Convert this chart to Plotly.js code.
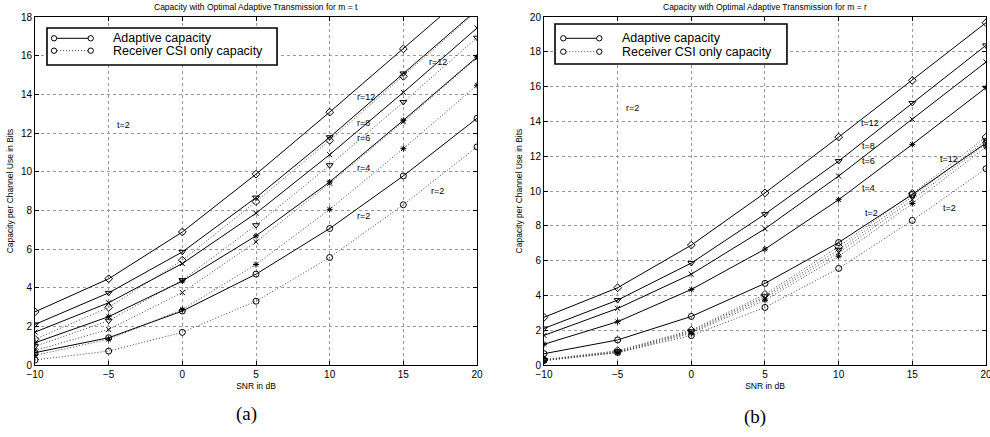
<!DOCTYPE html>
<html>
<head>
<meta charset="utf-8">
<script src="https://cdn.plot.ly/plotly-3.0.1.min.js"></script>
<style>html,body{margin:0;padding:0;background:#fff;}#chart{width:990px;height:437px;}</style>
</head>
<body>
<div id="chart"></div>
<script>
// ---------- data ----------
const snr = [-10, -5, 0, 5, 10, 15, 20];

// (a) m = t, curves for r = 2,4,6,8,12
const adaptT_r2  = [0.64, 1.41, 2.79, 4.70, 7.06, 9.78, 12.76];
const adaptT_r4  = [1.15, 2.50, 4.34, 6.68, 9.47, 12.66, 15.93];
const adaptT_r6  = [1.70, 3.22, 5.25, 7.85, 10.88, 14.10, 17.43];
const adaptT_r8  = [2.10, 3.73, 5.85, 8.66, 11.78, 15.08, 18.37];
const adaptT_r12 = [2.75, 4.46, 6.88, 9.87, 13.08, 16.35, 19.66];
const rcsiT_r2   = [0.26, 0.72, 1.69, 3.30, 5.56, 8.29, 11.28];
const rcsiT_r4   = [0.50, 1.33, 2.87, 5.20, 8.05, 11.19, 14.47];
const rcsiT_r6   = [0.75, 1.84, 3.75, 6.37, 9.40, 12.58, 15.88];
const rcsiT_r8   = [0.97, 2.29, 4.39, 7.23, 10.33, 13.60, 16.93];
const rcsiT_r12  = [1.33, 2.98, 5.42, 8.45, 11.62, 14.93, 18.30];

// (b) m = r, curves for t = 2,4,6,8,12
const adaptR_t2  = [0.65, 1.44, 2.79, 4.69, 7.04, 9.80, 12.76];
const adaptR_t4  = [1.19, 2.49, 4.34, 6.66, 9.50, 12.68, 15.94];
const adaptR_t6  = [1.70, 3.25, 5.22, 7.83, 10.86, 14.12, 17.41];
const adaptR_t8  = [2.10, 3.73, 5.86, 8.67, 11.72, 15.06, 18.37];
const adaptR_t12 = [2.74, 4.44, 6.89, 9.89, 13.10, 16.36, 19.67];
const rcsiR_t2   = [0.26, 0.72, 1.69, 3.31, 5.55, 8.31, 11.28];
const rcsiR_t4   = [0.25, 0.70, 1.82, 3.72, 6.25, 9.28, 12.53];
const rcsiR_t6   = [0.27, 0.74, 1.88, 3.85, 6.45, 9.50, 12.72];
const rcsiR_t8   = [0.29, 0.78, 1.94, 3.95, 6.62, 9.68, 12.92];
const rcsiR_t12  = [0.31, 0.82, 2.00, 4.06, 6.80, 9.86, 13.10];

const symbols = ['circle-open', 'asterisk-open', 'x-thin-open', 'triangle-down-open', 'diamond-open'];
const symSizes = [6, 5, 5, 6, 6];
const titleA = 'Capacity with Optimal Adaptive Transmission for m = t';
const titleB = 'Capacity with Optimal Adaptive Transmission for m = r';
const xTitle = 'SNR in dB';
const yTitle = 'Capacity per Channel Use in Bits';
const legendNames = ['Adaptive capacity', 'Receiver CSI only capacity'];

// ---------- traces ----------
const FONT = '"Liberation Sans", Arial, Helvetica, sans-serif';
const SERIF = '"Liberation Serif", "Times New Roman", serif';
const SOLID = {color: '#000', width: 1};
const DOTTED = {color: '#444', width: 1, dash: '1px,2px'};
function tr(y, i, dotted, xa, ya, nm) {
  return {
    x: snr, y: y, xaxis: xa, yaxis: ya, type: 'scatter', mode: 'lines+markers',
    name: nm, showlegend: false, hoverinfo: 'x+y',
    line: dotted ? DOTTED : SOLID,
    marker: {symbol: symbols[i], size: symSizes[i], color: '#000', line: {color: '#000', width: 1}}
  };
}
const traces = [];
[rcsiT_r2, rcsiT_r4, rcsiT_r6, rcsiT_r8, rcsiT_r12].forEach((y, i) => traces.push(tr(y, i, true, 'x', 'y', legendNames[1])));
[adaptT_r2, adaptT_r4, adaptT_r6, adaptT_r8, adaptT_r12].forEach((y, i) => traces.push(tr(y, i, false, 'x', 'y', legendNames[0])));
[rcsiR_t2, rcsiR_t4, rcsiR_t6, rcsiR_t8, rcsiR_t12].forEach((y, i) => traces.push(tr(y, i, true, 'x2', 'y2', legendNames[1])));
[adaptR_t2, adaptR_t4, adaptR_t6, adaptR_t8, adaptR_t12].forEach((y, i) => traces.push(tr(y, i, false, 'x2', 'y2', legendNames[0])));

// ---------- layout ----------
function xax(domain, anchor) {
  return {
    domain: domain, anchor: anchor, range: [-10, 20], tickvals: snr, ticks: 'inside', ticklen: 4,
    tickcolor: '#000', mirror: 'ticks', showline: true, linecolor: '#000', linewidth: 1,
    showgrid: true, gridcolor: '#9a9a9a', griddash: 'dot', gridwidth: 1, zeroline: false,
    ticklabeloverflow: 'allow',
    tickfont: {family: FONT, size: 10, color: '#000'},
    title: {text: xTitle, font: {family: FONT, size: 8.5, color: '#000'}, standoff: 4}
  };
}
function yax(anchor, top) {
  return {
    domain: [0, 1], anchor: anchor, range: [0, top], dtick: 2, ticks: 'inside', ticklen: 4,
    tickcolor: '#000', mirror: 'ticks', showline: true, linecolor: '#000', linewidth: 1,
    showgrid: true, gridcolor: '#9a9a9a', griddash: 'dot', gridwidth: 1, zeroline: false,
    tickfont: {family: FONT, size: 10, color: '#000'},
    title: {text: yTitle, font: {family: FONT, size: 8.5, color: '#000'}, standoff: 5}
  };
}

const lab = (text, x, y, xr, yr) => ({
  text: text, x: x, y: y, xref: xr, yref: yr, showarrow: false, xanchor: 'center', yanchor: 'middle',
  font: {family: FONT, size: 9, color: '#000'}
});
const paperText = (text, x, y, size, fam, xa) => ({
  text: text, x: x, y: y, xref: 'paper', yref: 'paper', showarrow: false,
  xanchor: xa || 'center', yanchor: 'middle', font: {family: fam, size: size, color: '#000'}
});

// hand-drawn MATLAB-style legend boxes (paper coordinates)
const shapes = [];
const legendAnns = [];
function drawLegend(bx0, bx1, by0, by1, lx0, lx1, rows, tx) {
  shapes.push({type: 'rect', xref: 'paper', yref: 'paper', x0: bx0, x1: bx1, y0: by0, y1: by1,
    line: {color: '#000', width: 1.6}, fillcolor: '#fff', layer: 'above'});
  rows.forEach((ry, j) => {
    const ln = j ? DOTTED : SOLID;
    shapes.push({type: 'line', xref: 'paper', yref: 'paper', x0: lx0, x1: lx1, y0: ry, y1: ry,
      line: ln, layer: 'above'});
    [lx0, lx1].forEach(cx => shapes.push({type: 'circle', xref: 'paper', yref: 'paper',
      xsizemode: 'pixel', ysizemode: 'pixel', xanchor: cx, yanchor: ry,
      x0: -2.7, x1: 2.7, y0: -2.7, y1: 2.7, line: {color: '#000', width: 1}, fillcolor: '#fff', layer: 'above'}));
    legendAnns.push(paperText(legendNames[j], tx, ry, 12.5, FONT, 'left'));
  });
}
drawLegend(0.0126, 0.2545, 0.8621, 0.9684, 0.0200, 0.0586, [0.9388, 0.9032], 0.0800);
drawLegend(0.5468, 0.7907, 0.8649, 0.9799, 0.5555, 0.5934, [0.9388, 0.9003], 0.6152);

const layout = {
  width: 990, height: 437,
  margin: {l: 35, r: 4, t: 17, b: 72},
  paper_bgcolor: '#fff', plot_bgcolor: '#fff',
  font: {family: FONT, color: '#000'},
  showlegend: false,
  xaxis: xax([0, 0.4648], 'y'),
  yaxis: yax('x', 18),
  xaxis2: xax([0.5352, 1], 'y2'),
  yaxis2: yax('x2', 20),
  shapes: shapes,
  annotations: [
    paperText(titleA, 0.2324, 1.029, 8.5, FONT),
    paperText(titleB, 0.7676, 1.029, 8.5, FONT),
    paperText('(a)', 0.2224, -0.141, 19, SERIF),
    paperText('(b)', 0.7576, -0.149, 19, SERIF),
    lab('t=2', -4.0, 12.4, 'x', 'y'),
    lab('r=12', 17.36, 15.69, 'x', 'y'),
    lab('r=12', 12.47, 13.85, 'x', 'y'),
    lab('r=8', 12.3, 12.53, 'x', 'y'),
    lab('r=6', 12.3, 11.76, 'x', 'y'),
    lab('r=4', 12.3, 10.17, 'x', 'y'),
    lab('r=2', 17.3, 9.02, 'x', 'y'),
    lab('r=2', 12.3, 7.71, 'x', 'y'),
    lab('r=2', -4.0, 14.75, 'x2', 'y2'),
    lab('t=12', 12.14, 13.93, 'x2', 'y2'),
    lab('t=8', 12.0, 12.6, 'x2', 'y2'),
    lab('t=6', 12.0, 11.72, 'x2', 'y2'),
    lab('t=4', 12.0, 10.15, 'x2', 'y2'),
    lab('t=2', 12.2, 8.72, 'x2', 'y2'),
    lab('t=12', 17.51, 11.82, 'x2', 'y2'),
    lab('t=2', 17.5, 9.0, 'x2', 'y2')
  ].concat(legendAnns)
};

Plotly.newPlot('chart', traces, layout, {displayModeBar: false, staticPlot: true});
</script>
</body>
</html>
